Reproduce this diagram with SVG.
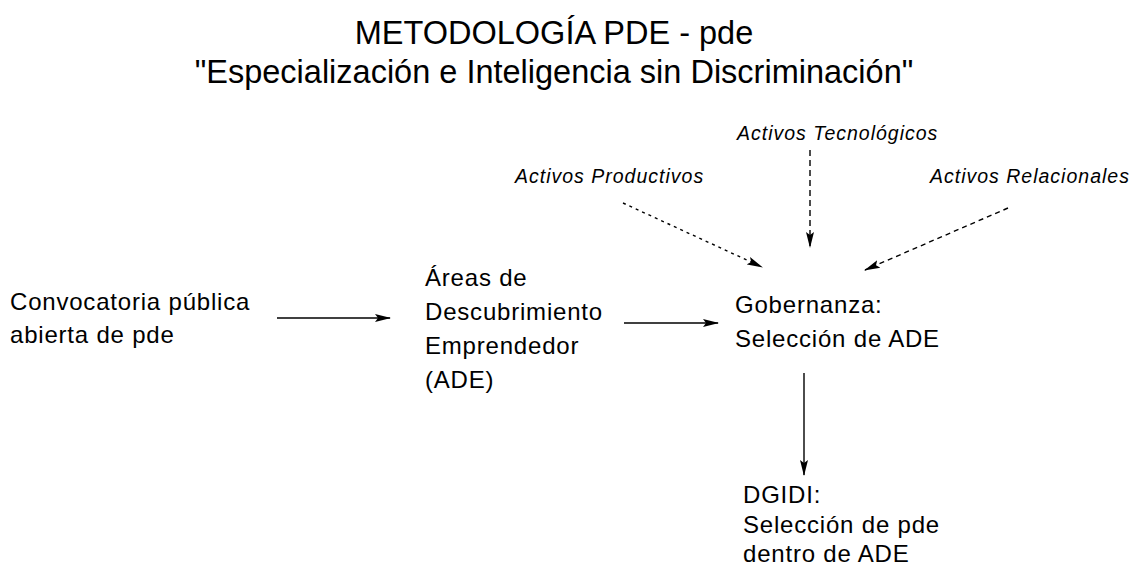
<svg xmlns="http://www.w3.org/2000/svg" width="1132" height="580" viewBox="0 0 1132 580">
<defs>
<style>
text{font-family:"Liberation Sans",Arial,sans-serif;fill:#000}
.t{font-size:32.5px;text-anchor:middle}
.b{font-size:24px;letter-spacing:0.8px}
.i{font-size:19.5px;font-style:italic;letter-spacing:1px}
.c{stroke:#000;stroke-width:1.4;fill:none}
.d{stroke-dasharray:5 4}
.d2{stroke-dasharray:3 4}
.d3{stroke-dasharray:6 4}
</style>
<marker id="ah" viewBox="0 0 16 10" refX="15" refY="5" markerWidth="16" markerHeight="10" markerUnits="userSpaceOnUse" orient="auto">
<path d="M0,1 L16,5 L0,9 L3,5 z" fill="#000"/>
</marker>
</defs>
<rect width="1132" height="580" fill="#fff"/>
<g id="title">
<text class="t" x="554" y="44">METODOLOGÍA PDE - pde</text>
<text class="t" x="554" y="83">"Especialización e Inteligencia sin Discriminación"</text>
</g>
<g id="activos-tecnologicos"><text class="i" x="737" y="140">Activos Tecnológicos</text></g>
<g id="activos-productivos"><text class="i" x="515" y="183">Activos Productivos</text></g>
<g id="activos-relacionales"><text class="i" x="930" y="183">Activos Relacionales</text></g>
<g id="convocatoria">
<text class="b" x="10" y="310">Convocatoria pública</text>
<text class="b" x="10" y="343">abierta de pde</text>
</g>
<g id="ade">
<text class="b" x="425" y="286">Áreas de</text>
<text class="b" x="425" y="320">Descubrimiento</text>
<text class="b" x="425" y="354">Emprendedor</text>
<text class="b" x="425" y="388">(ADE)</text>
</g>
<g id="gobernanza">
<text class="b" x="735" y="313">Gobernanza:</text>
<text class="b" x="735" y="347">Selección de ADE</text>
</g>
<g id="dgidi">
<text class="b" x="743" y="503">DGIDI:</text>
<text class="b" x="743" y="533">Selección de pde</text>
<text class="b" x="743" y="562">dentro de ADE</text>
</g>
<g id="connectors">
<line class="c" x1="277" y1="318" x2="390" y2="318" marker-end="url(#ah)"/>
<line class="c" x1="624" y1="323" x2="718" y2="323" marker-end="url(#ah)"/>
<line class="c" x1="804" y1="373" x2="804" y2="475" marker-end="url(#ah)"/>
<line class="c d2" x1="623" y1="203" x2="762" y2="267" marker-end="url(#ah)"/>
<line class="c d3" x1="810" y1="150" x2="810" y2="247" marker-end="url(#ah)"/>
<line class="c d" x1="1008" y1="208" x2="865" y2="270" marker-end="url(#ah)"/>
</g>
</svg>
